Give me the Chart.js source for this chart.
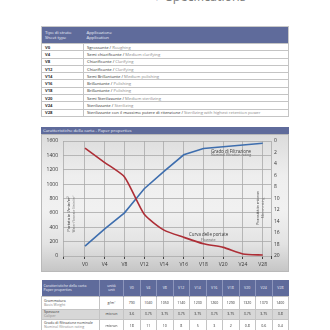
<!DOCTYPE html>
<html><head><meta charset="utf-8">
<script src="https://cdn.jsdelivr.net/npm/chart.js@4.4.1/dist/chart.umd.min.js"></script>
<style>
html,body{margin:0;padding:0;background:#fff;width:330px;height:330px;overflow:hidden;font-family:'Open Sans',sans-serif;}
.abs{position:absolute;}
#title{left:166px;top:-10px;font-size:12.5px;color:#7d7d7d;white-space:nowrap;line-height:14px;}
#chev{left:154px;top:-10px;font-size:12.5px;color:#3e4f86;line-height:14px;font-weight:bold;}
table{border-collapse:collapse;table-layout:fixed;position:absolute;}
#t1{left:41px;top:26px;width:248px;border:1px solid #c9c9c9;}
#t1 th{background:#5f6b9b;color:#eef0f8;font-weight:normal;text-align:left;font-size:4.3px;line-height:4.6px;padding:0 0 0 3px;height:16px;vertical-align:middle;}
#t1 td{border:1px solid #c4c4c4;font-size:4.2px;line-height:5px;padding:0 0 0 3px;white-space:nowrap;overflow:hidden;color:#333;}
#t1 tr.r{height:7.3px;}
#t1 td.k{font-weight:bold;color:#333;}
.en{color:#8a8a8a;}
#ch{left:41px;top:127px;width:248px;height:6.5px;background:#5f6b9b;color:#eef0f8;font-size:4.3px;line-height:6.5px;padding-left:2px;box-sizing:border-box;white-space:nowrap;}
#panel{left:41px;top:133.5px;width:248px;height:138.5px;box-sizing:border-box;border:1px solid #b9b9b9;background:linear-gradient(to bottom,#dcdcdc 0%,#eeeeee 30%,#f1f1f1 55%,#e3e3e3 80%,#c6c6c6 100%);}
#cv{left:41px;top:133px;}
.ann{position:absolute;white-space:nowrap;color:#3a3a3a;}
.rot{position:absolute;white-space:nowrap;transform:translate(-50%,-50%) rotate(-90deg);text-align:center;}
#t2{left:41px;top:280px;width:248px;}
#t2 th{background:#5f6b9b;color:#eef0f8;font-weight:normal;font-size:3.6px;line-height:4px;height:16px;padding:0;border-left:0.5px solid #8c95bb;text-align:center;vertical-align:middle;}
#t2 th.f{text-align:left;padding-left:2px;border-left:none;}
#t2 td{border:0.5px solid #c4c4c4;font-size:3.6px;line-height:4px;text-align:center;padding:0;color:#333;white-space:nowrap;overflow:hidden;}
#t2 td.f{text-align:left;padding-left:2px;}
#t2 tr.g td{background:#d7d7d7;}
</style></head>
<body>
<div id="chev" class="abs">‹</div>
<div id="title" class="abs">Specifications</div>
<table id="t1"></table>
<div id="ch" class="abs">Caratteristiche della carta - Paper properties</div>
<div id="panel" class="abs"></div>
<canvas id="cv" class="abs" width="248" height="139"></canvas>
<div class="ann" style="left:211px;top:147.5px;font-size:4.4px;">Grado di Filtrazione</div>
<div class="ann" style="left:211px;top:152.3px;font-size:3.6px;color:#666;">Nominal filtration rating</div>
<div class="ann" style="left:189px;top:230.8px;font-size:4.4px;">Curva delle portate</div>
<div class="ann" style="left:201px;top:236.5px;font-size:3.6px;color:#666;">Flowrate</div>
<div class="rot" style="left:67.5px;top:214px;font-size:4px;color:#444;">Portata in l/min/m²</div>
<div class="rot" style="left:72.5px;top:214px;font-size:3.3px;color:#777;">Water flowrate l/min/m²</div>
<div class="rot" style="left:257.3px;top:208px;font-size:4px;color:#444;">Porosità in micron</div>
<div class="rot" style="left:261.8px;top:208px;font-size:3.3px;color:#777;">Micron rating</div>
<table id="t2"></table>
<script>
// ---- data ----
const categories = ['V0','V4','V8','V12','V14','V16','V18','V20','V24','V28'];
const flowRate = [1500,1300,1100,580,360,260,170,120,28,14];          // l/min/m2 (left axis)
const filtrationGrade = [18.3,15.3,12.5,8.3,5.3,2.4,1.3,1.0,0.7,0.4]; // micron (right axis, reversed)
const flowTicks = [0,200,400,600,800,1000,1200,1400,1600];
const gradeTicks = [0,2,4,6,8,10,12,14,16,18,20];
const sheetTypes = ['V0','V4','V8','V12','V14','V16','V18','V20','V24','V28'];
const applicationIT = ['Sgrossante','Semi chiarificante','Chiarificante','Chiarificante','Semi Brillantante','Brillantante','Brillantante','Semi Sterilizzante','Sterilizzante','Sterilizzante con il massimo potere di ritenzione'];
const applicationEN = ['Roughing','Medium clarifying','Clarifying','Clarifying','Medium polishing','Polishing','Polishing','Medium sterilizing','Sterilizing','Sterilizing with highest retention power'];
const basisWeight = ['790','1040','1050','1140','1230','1260','1290','1320','1370','1400'];
const caliper = ['3.6','3.75','3.75','3.75','3.75','3.75','3.75','3.75','3.75','3.8'];
const nominalRating = ['18','11','10','8','5','3','2','0.8','0.6','0.4'];

// ---- table 1 ----
const t1 = document.getElementById('t1');
let h = '<colgroup><col style="width:42px"><col></colgroup>';
h += '<tr><th>Tipo di strato<br>Sheet type</th><th>Applicazione<br>Application</th></tr>';
sheetTypes.forEach((s,i)=>{
  h += '<tr class="r"><td class="k">'+s+'</td><td>'+applicationIT[i]+' / <span class="en">'+applicationEN[i]+'</span></td></tr>';
});
t1.innerHTML = h;

// ---- table 2 ----
const t2 = document.getElementById('t2');
let g = '<colgroup><col style="width:58px"><col style="width:24px">'+categories.map(()=>'<col>').join('')+'</colgroup>';
g += '<tr style="height:16px"><th class="f">Caratteristiche della carta<br>Paper properties</th><th>unità<br>unit</th>'+categories.map(c=>'<th>'+c+'</th>').join('')+'</tr>';
g += '<tr style="height:12.5px"><td class="f">Grammatura<br><span class="en">Basis Weight</span></td><td>g/m²</td>'+basisWeight.map(v=>'<td>'+v+'</td>').join('')+'</tr>';
g += '<tr class="g" style="height:10px"><td class="f">Spessore<br><span class="en">Caliper</span></td><td>micron</td>'+caliper.map(v=>'<td>'+v+'</td>').join('')+'</tr>';
g += '<tr style="height:20px"><td class="f" style="vertical-align:top;padding-top:1.5px">Grado di filtrazione nominale<br><span class="en">Nominal filtration rating</span></td><td style="vertical-align:top;padding-top:4px">micron</td>'+nominalRating.map(v=>'<td style="vertical-align:top;padding-top:4px">'+v+'</td>').join('')+'</tr>';
t2.innerHTML = g;

// ---- chart ----
const xMin = -1.114, xMax = 9.42;
const font = {family:"'Open Sans', sans-serif", size:5};
new Chart(document.getElementById('cv'), {
  type: 'line',
  data: {
    datasets: [
      {label:'Curva delle portate', data: flowRate.map((v,i)=>({x:i,y:v})), yAxisID:'y', borderColor:'#ad2e36', borderWidth:1.6, pointRadius:0, tension:0.2, fill:false},
      {label:'Grado di Filtrazione', data: filtrationGrade.map((v,i)=>({x:i,y:v})), yAxisID:'y1', borderColor:'#3e6eae', borderWidth:1.6, pointRadius:0, tension:0, fill:false}
    ]
  },
  options: {
    responsive:false, animation:false, devicePixelRatio:1,
    layout:{padding:{top:8,left:0,right:0,bottom:0}},
    plugins:{legend:{display:false}, tooltip:{enabled:false}},
    scales:{
      x:{type:'linear', min:xMin, max:xMax,
         afterBuildTicks:(s)=>{s.ticks=[xMin].concat(categories.map((c,i)=>i)).concat([xMax]).map(v=>({value:v}));},
         afterFit:(s)=>{s.height=16;},
         border:{display:false},
         grid:{color:'#a9a9a9', borderDash:[1.5,1.5], lineWidth:0.8, drawTicks:true, tickLength:3, tickColor:'#444', tickBorderDash:[], tickWidth:1},
         ticks:{font, color:'#333', padding:3, autoSkip:false, maxRotation:0,
           callback:(v)=> (Number.isInteger(v) && v>=0 && v<categories.length) ? categories[v] : ''}},
      y:{position:'left', min:0, max:1600,
         afterBuildTicks:(s)=>{s.ticks=flowTicks.map(v=>({value:v}));},
         afterFit:(s)=>{s.width=22;},
         border:{display:false},
         grid:{color:'#a9a9a9', borderDash:[1.5,1.5], lineWidth:0.8, drawTicks:false},
         ticks:{font, color:'#333', padding:5, callback:(v)=>String(v)}},
      y1:{position:'right', min:0, max:20, reverse:true,
         afterBuildTicks:(s)=>{s.ticks=gradeTicks.map(v=>({value:v}));},
         afterFit:(s)=>{s.width=18;},
         border:{display:false},
         grid:{drawOnChartArea:false, drawTicks:false},
         ticks:{font, color:'#333', padding:3, callback:(v)=>String(v)}}
    }
  }
});
</script>
</body></html>
